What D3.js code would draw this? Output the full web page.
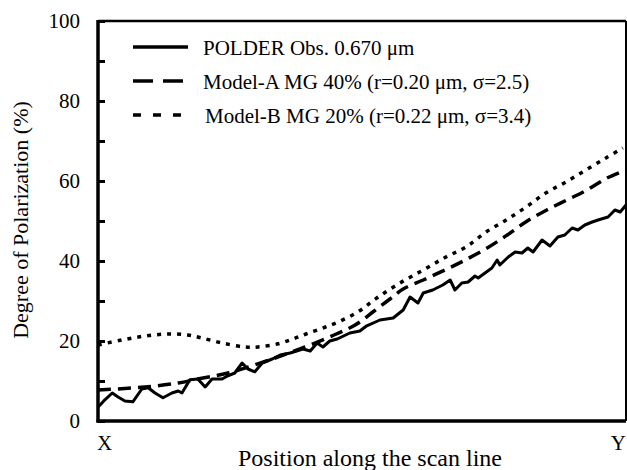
<!DOCTYPE html>
<html>
<head>
<meta charset="utf-8">
<script src="https://cdn.jsdelivr.net/npm/d3@7"></script>
<style>
    body { margin: 0; background: #fff; }
</style>
</head>
<body>
<div id="chart"></div>
<script>
// Position along the scan line (0 = X, 100 = Y) and degree of polarization (%)
const obsPos = [0, 0.4, 1.3, 2.7, 3.8, 5.1, 6.6, 8.3, 9.5, 10.8, 12.3, 14.0, 15.2, 15.9, 17.4, 18.9, 20.3, 21.6, 23.5, 24.6,
    25.9, 27.3, 28.4, 29.7, 31.1, 33.0, 34.5, 36.4, 38.8, 40.2, 41.5, 42.6, 43.9, 45.3, 47.7, 49.6, 50.9, 53.4, 55.9, 57.8,
    59.1, 60.6, 61.6, 63.4, 65.3, 66.7, 67.6, 68.9, 70.1, 71.4, 72.0, 73.3, 74.6, 75.6, 76.1, 77.7, 79.0, 80.3, 81.4, 82.4,
    84.1, 85.6, 87.1, 88.4, 89.8, 90.9, 92.2, 93.6, 94.7, 96.6, 97.9, 98.9, 100];
const obsVal = [3.5, 4, 5.3, 7, 6, 5, 4.8, 8, 8.3, 7, 5.8, 7, 7.5, 7, 10.3, 10.5, 8.5, 10.5, 10.5, 11.3,
    12, 14.5, 13, 12.3, 14.5, 15.5, 16.5, 17, 18, 17.5, 19.5, 18.5, 20, 20.5, 22, 22.5, 23.8, 25.25, 25.75, 27.75,
    31, 29.5, 32, 32.75, 34, 35.25, 32.75, 34.5, 34.75, 36.25, 35.75, 37, 38.25, 40.25, 39, 41, 42.25, 42, 43.25, 42.25,
    45.25, 43.75, 46, 46.5, 48.25, 47.75, 49, 49.75, 50.25, 51, 52.75, 52.25, 54];

const modelAPos = [0, 8.9, 15.2, 18.9, 24.6, 33.0, 39.2, 44.7, 48.7, 52.3, 55.3, 57.8, 61.6, 66.1, 69.9, 73.7, 77.5, 81.3, 85.0, 88.8, 92.6, 96.4, 100];
const modelAVal = [7.75, 8.5, 9.5, 10.5, 12, 15.5, 18.5, 21.5, 24, 27.5, 30.5, 33, 35.25, 38, 40.5, 43.25, 46.5, 50, 52.75, 55.25, 57.75, 60.75, 62.75];

const modelBPos = [0, 4.5, 8.9, 13.3, 17.0, 19.7, 23.5, 27.8, 30.3, 34.1, 36.9, 39.4, 42.6, 45.5, 49.2, 52.8, 57.2, 61.6, 65.9, 69.7, 73.5, 77.3, 81.1, 84.8, 88.6, 92.4, 96.2, 99.4];
const modelBVal = [19, 20.25, 21.25, 21.75, 21.5, 20.75, 19.5, 18.5, 18.5, 19.3, 20.5, 21.75, 23.25, 24.75, 27.25, 30.75, 34.5, 37.75, 41, 43.5, 47.25, 50.25, 53.5, 57, 59.75, 62.75, 65.75, 68.25];

const seriesNames = ["POLDER Obs. 0.670 \u03bcm", "Model-A MG 40% (r=0.20 \u03bcm, \u03c3=2.5)", "Model-B MG 20% (r=0.22 \u03bcm, \u03c3=3.4)"];
const yMajorTicks = [0, 20, 40, 60, 80, 100];
const yMinorTicks = [10, 30, 50, 70, 90];
const xEndLabels = ["X", "Y"];

const serif = "'Liberation Serif', 'DejaVu Serif', serif";

drawChart();

function drawChart() {
    const totalWidth = 627, totalHeight = 470;
    const margin = {top: 21, right: 1, bottom: 49, left: 98};

    const svg = d3.select("#chart")
        .append("svg")
        .attr("width", totalWidth)
        .attr("height", totalHeight)
        .attr("font-family", serif);

    const xScale = d3.scaleLinear()
        .domain([0, 100])
        .range([margin.left, totalWidth - margin.right]);

    const yScale = d3.scaleLinear()
        .domain([0, 100])
        .range([totalHeight - margin.bottom, margin.top]);

    // Frame: thin top/right, heavy left/bottom
    svg.append("line")
        .attr("x1", xScale(0)).attr("x2", xScale(100))
        .attr("y1", yScale(100)).attr("y2", yScale(100))
        .attr("stroke", "#000").attr("stroke-width", 2.5);
    svg.append("line")
        .attr("x1", xScale(100)).attr("x2", xScale(100))
        .attr("y1", yScale(100)).attr("y2", yScale(0))
        .attr("stroke", "#000").attr("stroke-width", 2);

    // y axis with inward ticks
    const yAxis = d3.axisRight(yScale)
        .tickValues(yMajorTicks.concat(yMinorTicks))
        .tickSize(7)
        .tickFormat("");
    svg.append("g")
        .attr("class", "y-axis")
        .attr("transform", `translate(${xScale(0)},0)`)
        .call(yAxis)
        .call(g => g.select(".domain").remove())
        .call(g => g.selectAll(".tick line").attr("stroke", "#000").attr("stroke-width", 3));

    svg.append("g")
        .selectAll("text")
        .data(yMajorTicks)
        .join("text")
        .attr("x", xScale(0) - 18)
        .attr("y", d => yScale(d))
        .attr("dy", "0.34em")
        .attr("text-anchor", "end")
        .attr("font-family", serif)
        .attr("font-size", 21)
        .text(d => d);

    svg.append("line")
        .attr("x1", xScale(0)).attr("x2", xScale(0))
        .attr("y1", yScale(100) - 1).attr("y2", yScale(0) + 1.5)
        .attr("stroke", "#000").attr("stroke-width", 3.5);
    svg.append("line")
        .attr("x1", xScale(0) - 1.5).attr("x2", xScale(100))
        .attr("y1", yScale(0)).attr("y2", yScale(0))
        .attr("stroke", "#000").attr("stroke-width", 3.5);

    // Lines
    const obsData = obsPos.map((p, i) => ({x: p, y: obsVal[i]}));
    const aData = modelAPos.map((p, i) => ({x: p, y: modelAVal[i]}));
    const bData = modelBPos.map((p, i) => ({x: p, y: modelBVal[i]}));

    const straight = d3.line().x(d => xScale(d.x)).y(d => yScale(d.y));
    const smooth = d3.line().x(d => xScale(d.x)).y(d => yScale(d.y)).curve(d3.curveCatmullRom);

    svg.append("path")
        .datum(bData)
        .attr("d", smooth)
        .attr("fill", "none")
        .attr("stroke", "#000")
        .attr("stroke-width", 3.5)
        .attr("stroke-dasharray", "4,6");

    svg.append("path")
        .datum(aData)
        .attr("d", smooth)
        .attr("fill", "none")
        .attr("stroke", "#000")
        .attr("stroke-width", 3.5)
        .attr("stroke-dasharray", "13,7");

    svg.append("path")
        .datum(obsData)
        .attr("d", straight)
        .attr("fill", "none")
        .attr("stroke", "#000")
        .attr("stroke-width", 3)
        .attr("stroke-linejoin", "round");

    // Legend
    const legendRows = [
        {name: seriesNames[0], y: 47, dash: null, textX: 203},
        {name: seriesNames[1], y: 81, dash: "20,10", textX: 203},
        {name: seriesNames[2], y: 115, dash: "8,12", textX: 205}
    ];
    const legend = svg.append("g").attr("class", "legend");
    legend.selectAll("line")
        .data(legendRows)
        .join("line")
        .attr("x1", 133).attr("x2", 188)
        .attr("y1", d => d.y).attr("y2", d => d.y)
        .attr("stroke", "#000")
        .attr("stroke-width", 3.5)
        .attr("stroke-dasharray", d => d.dash);
    legend.selectAll("text")
        .data(legendRows)
        .join("text")
        .attr("x", d => d.textX)
        .attr("y", d => d.y + 8)
        .attr("font-family", serif)
        .attr("font-size", 21)
        .text(d => d.name);

    // Axis labels
    svg.append("text")
        .attr("x", xScale(0) - 1)
        .attr("y", 450)
        .attr("font-family", serif)
        .attr("font-size", 21)
        .text(xEndLabels[0]);
    svg.append("text")
        .attr("x", xScale(100))
        .attr("y", 450)
        .attr("text-anchor", "end")
        .attr("font-family", serif)
        .attr("font-size", 21)
        .text(xEndLabels[1]);

    svg.append("text")
        .attr("x", 370)
        .attr("y", 466)
        .attr("text-anchor", "middle")
        .attr("font-family", serif)
        .attr("font-size", 24)
        .text("Position along the scan line");

    svg.append("text")
        .attr("transform", "rotate(-90)")
        .attr("x", -220)
        .attr("y", 28)
        .attr("text-anchor", "middle")
        .attr("font-family", serif)
        .attr("font-size", 22)
        .text("Degree of Polarization (%)");
}
</script>
</body>
</html>
